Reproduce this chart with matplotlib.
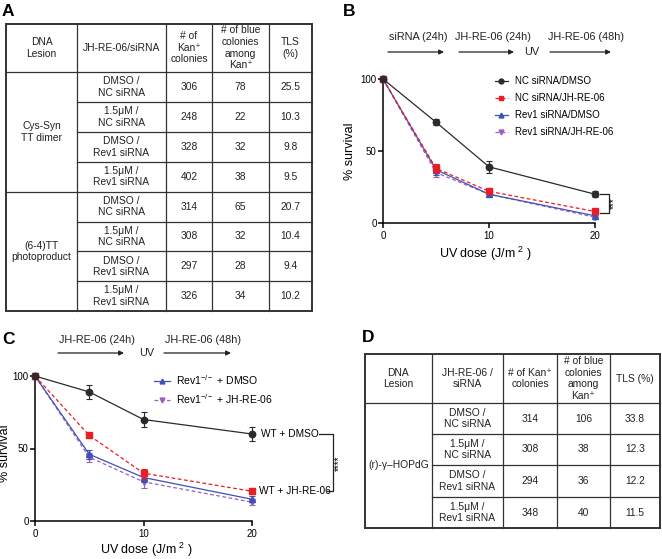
import matplotlib
matplotlib.use("Agg")
import matplotlib.pyplot as plt
from matplotlib.lines import Line2D

# =====================
# DATA
# =====================
lesions_a = ["Cys-Syn\nTT dimer", "(6-4)TT\nphotoproduct"]
conditions = ["DMSO /\nNC siRNA", "1.5μM /\nNC siRNA", "DMSO /\nRev1 siRNA", "1.5μM /\nRev1 siRNA"]
header_a = ["DNA\nLesion", "JH-RE-06/siRNA", "# of\nKan⁺\ncolonies", "# of blue\ncolonies\namong\nKan⁺", "TLS\n(%)"]
kan_a = [306, 248, 328, 402, 314, 308, 297, 326]
blue_a = [78, 22, 32, 38, 65, 32, 28, 34]
tls_a = [25.5, 10.3, 9.8, 9.5, 20.7, 10.4, 9.4, 10.2]

lesions_d = ["(r)-γ–HOPdG"]
header_d = ["DNA\nLesion", "JH-RE-06 /\nsiRNA", "# of Kan⁺\ncolonies", "# of blue\ncolonies\namong\nKan⁺", "TLS (%)"]
kan_d = [314, 308, 294, 348]
blue_d = [106, 38, 36, 40]
tls_d = [33.8, 12.3, 12.2, 11.5]

dose = [0, 5, 10, 20]

labels_b = ["NC siRNA/DMSO", "NC siRNA/JH-RE-06", "Rev1 siRNA/DMSO", "Rev1 siRNA/JH-RE-06"]
surv_b = [[100, 70, 39, 20], [100, 38, 22, 8], [100, 37, 20, 5], [100, 35, 20, 4]]
err_b = [[0, 2, 4, 2], [0, 3, 2, 2], [0, 4, 1.5, 1], [0, 3, 1.5, 1]]

labels_c = ["WT + DMSO", "WT + JH-RE-06", "Rev1$^{-/-}$ + DMSO", "Rev1$^{-/-}$ + JH-RE-06"]
surv_c = [[100, 89, 70, 60], [100, 59, 33, 20.5], [100, 46, 30, 15], [100, 44, 27, 13]]
err_c = [[0, 5, 5, 5], [0, 2, 3, 2], [0, 3, 3, 2], [0, 3, 4, 2]]

# =====================
# STYLE
# =====================
plt.rcParams.update({
    "font.family": ["Liberation Sans", "DejaVu Sans"],
    "mathtext.default": "regular",
    "font.size": 7,
    "axes.linewidth": 1.1,
    "xtick.major.size": 3.5,
    "ytick.major.size": 3.5,
    "xtick.major.width": 1.1,
    "ytick.major.width": 1.1,
    "xtick.major.pad": 2,
    "ytick.major.pad": 1,
    "xtick.labelsize": 7,
    "ytick.labelsize": 7,
})

colors = ["#2b2b2b", "#ec1c24", "#3f51b5", "#9b5fc0"]
markers = ["o", "s", "^", "v"]
styles = ["-", (0, (3, 2)), "-", (0, (3, 2))]
zorders = [6, 5, 4, 3]
TFS = 7.4  # table font size

W, H = 662, 559
fig = plt.figure(figsize=(W / 100, H / 100), dpi=100)

ov = fig.add_axes([0, 0, 1, 1], zorder=0)
ov.set_xlim(0, W)
ov.set_ylim(H, 0)
ov.axis("off")


def px_axes(x0, x1, y_top, y_bot):
    return fig.add_axes([x0 / W, 1 - y_bot / H, (x1 - x0) / W, (y_bot - y_top) / H], zorder=2)


# =====================
# TABLES
# =====================
def draw_table(cols, rows, header, lesions, conds, kan, blue, tls):
    n_per = len(conds)
    x0, x1 = cols[0], cols[-1]
    # vertical lines
    for i, x in enumerate(cols):
        ov.plot([x, x], [rows[0], rows[-1]], color="#333333", lw=1.4 if i in (0, len(cols) - 1) else 0.9)
    # horizontal lines
    for j, y in enumerate(rows):
        outer = j in (0, len(rows) - 1)
        full = outer or j == 1 or (j - 1) % n_per == 0
        ov.plot([x0 if full else cols[1], x1], [y, y], color="#333333", lw=1.4 if outer else 0.9)
    for i, h in enumerate(header):
        ov.text((cols[i] + cols[i + 1]) / 2, (rows[0] + rows[1]) / 2, h,
                ha="center", va="center", fontsize=TFS, linespacing=1.2, color="#222222")
    for g, les in enumerate(lesions):
        ytop = rows[1 + g * n_per]
        ybot = rows[1 + (g + 1) * n_per]
        ov.text((cols[0] + cols[1]) / 2, (ytop + ybot) / 2, les,
                ha="center", va="center", fontsize=TFS, linespacing=1.2, color="#222222")
    for r in range(len(kan)):
        yc = (rows[r + 1] + rows[r + 2]) / 2
        vals = [conds[r % n_per], str(kan[r]), str(blue[r]), f"{tls[r]:.1f}"]
        for c, v in enumerate(vals):
            ov.text((cols[c + 1] + cols[c + 2]) / 2, yc, v,
                    ha="center", va="center", fontsize=TFS, linespacing=1.2, color="#222222")


rows_a = [23.5, 72] + [72 + 29.9 * k for k in range(1, 9)]
draw_table([6, 77, 166, 212, 269, 312], rows_a, header_a, lesions_a, conditions, kan_a, blue_a, tls_a)
rows_d = [354, 403, 434, 465, 497, 528]
draw_table([365, 432, 503, 557, 610, 660], rows_d, header_d, lesions_d, conditions, kan_d, blue_d, tls_d)

# panel letters
for letter, x, y in [("A", 2, 11), ("B", 343, 11), ("C", 2, 339), ("D", 362, 337)]:
    ov.text(x, y, letter, fontsize=12.5, fontweight="bold", ha="left", va="center")


# =====================
# ARROWS (timeline)
# =====================
def timeline(y_txt, y_arr, segs, uv_x):
    for txt, tx, xs, xe in segs:
        ov.text(tx, y_txt, txt, ha="center", va="center", fontsize=7.8, color="#222222")
        ov.annotate("", xy=(xe, y_arr), xytext=(xs, y_arr),
                    arrowprops=dict(arrowstyle="-|>", lw=0.9, color="#222222", mutation_scale=7,
                                    shrinkA=0, shrinkB=0))
    ov.text(uv_x, y_arr, "UV", ha="center", va="center", fontsize=7.8, color="#222222")


timeline(37, 52, [("siRNA (24h)", 418, 388, 444), ("JH-RE-06 (24h)", 493, 459, 514),
                  ("JH-RE-06 (48h)", 586, 550, 611)], 532)
timeline(340, 353, [("JH-RE-06 (24h)", 97, 58, 124), ("JH-RE-06 (48h)", 203, 164, 231)], 147)


# =====================
# SURVIVAL PLOTS
# =====================
def survival(ax, surv, err):
    for k in range(4):
        cont = ax.errorbar(dose, surv[k], yerr=err[k], color=colors[k], marker=markers[k], ms=4.6,
                           lw=0.9, ls=styles[k], capsize=2.3, elinewidth=0.8, capthick=0.8,
                           zorder=zorders[k])
        for art in cont.get_children():
            art.set_clip_on(False)
    ax.set_xlim(0, 20)
    ax.set_ylim(0, 100)
    ax.set_xticks([0, 10, 20])
    ax.set_yticks([0, 50, 100])
    ax.spines["top"].set_visible(False)
    ax.spines["right"].set_visible(False)
    ax.patch.set_alpha(0)


def proxies(lbls, idx):
    return [Line2D([0], [0], color=colors[k], marker=markers[k], ms=3.5, lw=0.9, ls=styles[k])
            for k in idx], [lbls[k] for k in idx]


# B
axB = px_axes(383, 595, 79, 223)
survival(axB, surv_b, err_b)
h, l = proxies(labels_b, range(4))
axB.legend(h, l, loc="upper left", bbox_to_anchor=(495 / W, 1 - 76 / H), bbox_transform=fig.transFigure,
           frameon=False, borderpad=0, borderaxespad=0, handlelength=1.3, handletextpad=0.8,
           labelspacing=0.72, fontsize=7)
axB.plot([20.5, 21.3, 21.3, 20.5], [20, 20, 7, 7], color="#222222", lw=0.9, clip_on=False)
axB.text(21.75, 13.5, "***", rotation=90, ha="center", va="center", fontsize=7)
ov.text(350, 151, "% survival", rotation=90, ha="center", va="center", fontsize=9)
ov.text(485, 254, "UV dose (J/m$^{\\ 2}$ )", ha="center", va="center", fontsize=9)

# C
axC = px_axes(35, 252, 376, 521)
survival(axC, surv_c, err_c)
h, l = proxies(labels_c, [2, 3])
axC.legend(h, l, loc="upper left", bbox_to_anchor=(154 / W, 1 - 373 / H), bbox_transform=fig.transFigure,
           frameon=False, borderpad=0, borderaxespad=0, handlelength=1.5, handletextpad=0.6,
           labelspacing=0.5, fontsize=7.5)
axC.text(20.8, surv_c[0][3], labels_c[0], ha="left", va="center", fontsize=7.3)
axC.text(20.6, surv_c[1][3], labels_c[1], ha="left", va="center", fontsize=7.3)
axC.plot([26.2, 27.5, 27.5, 26.9], [60, 60, 20.5, 20.5], color="#222222", lw=0.9, clip_on=False)
axC.text(28.0, 40, "****", rotation=90, ha="center", va="center", fontsize=7)
ov.text(5, 453, "% survival", rotation=90, ha="center", va="center", fontsize=9)
ov.text(146, 550, "UV dose (J/m$^{\\ 2}$ )", ha="center", va="center", fontsize=9)

fig.savefig("out.png", dpi=100)
